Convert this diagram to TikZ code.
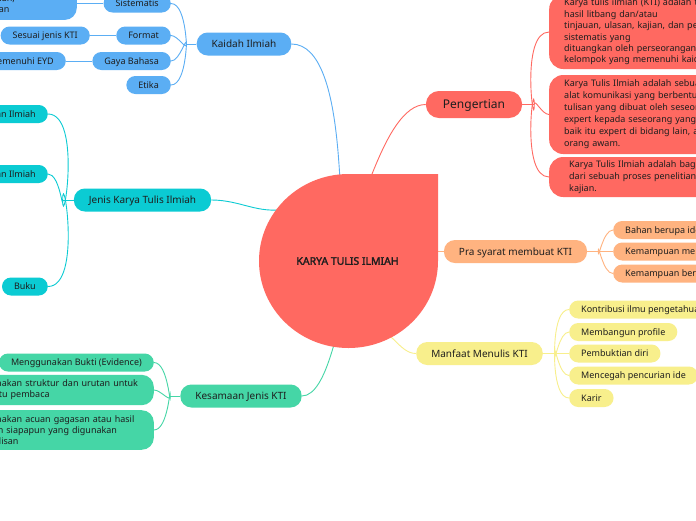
\documentclass[tikz,border=0pt]{standalone}
\usepackage{fontspec}
\setmainfont{Noto Sans}[AutoFakeBold=2.2]
\definecolor{cblue}{HTML}{5BAEF4}
\definecolor{cteal}{HTML}{0BCBD3}
\definecolor{cgreen}{HTML}{45D6A6}
\definecolor{cred}{HTML}{FF6961}
\definecolor{corange}{HTML}{FFB380}
\definecolor{cyellow}{HTML}{F8EF8C}
\definecolor{ctext}{HTML}{1E1E1E}
\pgfdeclarelayer{back}
\pgfdeclarelayer{bg}
\pgfsetlayers{back,bg,main}
\tikzset{
  lvlone/.style={rounded corners=11pt, inner xsep=15pt, inner ysep=0pt, minimum height=23pt,
    text height=7.2pt, text depth=0pt, font=\fontsize{10}{12}\selectfont, text=ctext},
  lvltwo/.style={rounded corners=9pt, inner xsep=12pt, inner ysep=0pt, minimum height=18pt,
    text height=6.5pt, text depth=0pt, font=\fontsize{9}{11}\selectfont, text=ctext},
  multi/.style={rounded corners=12pt, inner xsep=12pt, inner ysep=5pt, align=left,
    font=\fontsize{9}{11.3}\selectfont, text=ctext},
  defbox/.style={fill=cred, rounded corners=14pt, inner xsep=15pt, inner ysep=0pt, align=left,
    text width=220pt, text=ctext},
  link/.style={line width=0.9pt},
}
\begin{document}
\begin{tikzpicture}[x=1pt,y=-1pt]
\useasboundingbox (0,0) rectangle (696,520);
\clip (0,0) rectangle (696,520);
\begin{pgfonlayer}{back}
\fill[white] (0,0) rectangle (696,520);
\end{pgfonlayer}

% central teardrop
\fill[cred] (438,174) -- (438,261) arc[start angle=0,end angle=270,x radius=89.5,y radius=87] -- cycle;
\node[font=\bfseries\fontsize{10.5}{12}\selectfont, text=ctext] (kti) at (347.5,261) {KARYA TULIS ILMIAH};
\coordinate (inTop) at (345,185);
\coordinate (inTopR) at (356,192);
\coordinate (inLeft) at (286,209);
\coordinate (inBot) at (340,338);
\coordinate (inRight) at (430,251.5);
\coordinate (inBR) at (375,334);

% level one
\node[lvlone, fill=cblue] (kaidah) at (244,44) {Kaidah Ilmiah};
\node[lvlone, fill=cteal] (jenis) at (142.5,200) {Jenis Karya Tulis Ilmiah};
\node[lvlone, fill=cgreen] (kesamaan) at (241,396) {Kesamaan Jenis KTI};
\node[lvlone, fill=cred, inner xsep=17pt, minimum height=27pt, text height=8.6pt,
  rounded corners=13pt, font=\fontsize{12}{14}\selectfont] (pengertian) at (474,104.5) {Pengertian};
\node[lvlone, fill=corange] (prasyarat) at (515.5,251.5) {Pra syarat membuat KTI};
\node[lvlone, fill=cyellow] (manfaat) at (479.5,353.5) {Manfaat Menulis KTI};

% blue branch
\node[lvltwo, fill=cblue, anchor=east] (sistematis) at (171,3.5) {Sistematis};
\node[lvltwo, fill=cblue, anchor=east] (format) at (171,35.5) {Format};
\node[lvltwo, fill=cblue, anchor=east] (gaya) at (171,61) {Gaya Bahasa};
\node[lvltwo, fill=cblue, anchor=east] (etika) at (171,85) {Etika};
\node[multi, fill=cblue, anchor=east, text width=210pt, font=\fontsize{9}{11.4}\selectfont]
  (sisdesc) at (77,-1) {Tersusun secara runtut dan logis\\sehingga memudahkan pemahaman,\\dari pembukaan hingga kesimpulan};
\node[lvltwo, fill=cblue, anchor=east] (sesuai) at (90,35.5) {Sesuai jenis KTI};
\node[lvltwo, fill=cblue, anchor=east] (eyd) at (66,61) {Baku dan memenuhi EYD};

% teal branch
\node[lvltwo, fill=cteal, anchor=east] (laporan) at (48,114) {Laporan Ilmiah};
\node[lvltwo, fill=cteal, anchor=east] (karangan) at (48,174) {Karangan Ilmiah};
\node[lvltwo, fill=cteal, anchor=east] (buku) at (48,286.5) {Buku};

% green branch
\node[lvltwo, fill=cgreen, anchor=east] (bukti) at (154,362.5) {Menggunakan Bukti (Evidence)};
\node[multi, fill=cgreen, anchor=east, text width=181pt] (struktur) at (154,390)
  {Menggunakan struktur dan urutan untuk\\membantu pembaca};
\node[multi, fill=cgreen, anchor=east, text width=181pt] (acuan) at (154,430)
  {Menggunakan acuan gagasan atau hasil\\pemikiran siapapun yang digunakan\\dalam tulisan};

% red branch
\node[defbox, anchor=west, minimum height=74pt, font=\fontsize{9}{11.4}\selectfont] (def1) at (549,32)
  {Karya tulis ilmiah (KTI) adalah tulisan\\hasil litbang dan/atau\\tinjauan, ulasan, kajian, dan pemikiran\\sistematis yang\\dituangkan oleh perseorangan atau\\kelompok yang memenuhi kaidah ilmiah.};
\node[defbox, anchor=west, minimum height=79pt, font=\fontsize{9}{12}\selectfont] (def2) at (549,114.5)
  {Karya Tulis Ilmiah adalah sebuah\\alat komunikasi yang berbentuk\\tulisan yang dibuat oleh seseorang\\expert kepada seseorang yang lain,\\baik itu expert di bidang lain, atau\\orang awam.};
\node[defbox, anchor=west, minimum height=40pt, inner xsep=20pt, font=\fontsize{9}{12}\selectfont] (def3) at (549,177)
  {Karya Tulis Ilmiah adalah bagian\\dari sebuah proses penelitian atau\\kajian.};

% orange branch
\node[lvltwo, fill=corange, anchor=west] (bahan) at (613,230) {Bahan berupa ide/gagasan};
\node[lvltwo, fill=corange, anchor=west] (menulis) at (613,251.5) {Kemampuan menulis};
\node[lvltwo, fill=corange, anchor=west] (berpikir) at (613,273.5) {Kemampuan berpikir ilmiah};

% yellow branch
\node[lvltwo, fill=cyellow, anchor=west] (kontribusi) at (569,309.5) {Kontribusi ilmu pengetahuan};
\node[lvltwo, fill=cyellow, anchor=west] (profile) at (569,332) {Membangun profile};
\node[lvltwo, fill=cyellow, anchor=west] (bukti2) at (569,353.5) {Pembuktian diri};
\node[lvltwo, fill=cyellow, anchor=west] (cegah) at (569,375.5) {Mencegah pencurian ide};
\node[lvltwo, fill=cyellow, anchor=west] (karir) at (569,398) {Karir};

\begin{pgfonlayer}{bg}
% main links
\draw[link, cblue] (kaidah.east) to[out=0,in=-100] (inTop);
\draw[link, cred] (pengertian.west) to[out=180,in=-85] (inTopR);
\draw[link, cteal] (jenis.east) to[out=0,in=190] (inLeft);
\draw[link, cgreen] (kesamaan.east) to[out=0,in=95] (inBot);
\draw[link, corange] (prasyarat.west) -- (inRight);
\draw[link, cyellow] (manfaat.west) to[out=180,in=30] (inBR);
% blue
\draw[link, cblue] (kaidah.west) -- ++(-10,0) coordinate (jb);
\draw[link, cblue] (jb) to[out=-90,in=0] (sistematis.east);
\draw[link, cblue] (jb) to[out=-90,in=0] (format.east);
\draw[link, cblue] (jb) to[out=90,in=0] (gaya.east);
\draw[link, cblue] (jb) to[out=90,in=0] (etika.east);
\draw[link, cblue] (sistematis.west) -- (sisdesc.east |- sistematis.west);
\draw[link, cblue] (format.west) -- (sesuai.east);
\draw[link, cblue] (gaya.west) -- (eyd.east);
% teal
\draw[link, cteal] (jenis.west) -- ++(-11,0) coordinate (jt);
\draw[link, cteal] (jt) to[out=-90,in=0] (laporan.east);
\draw[link, cteal] (jt) to[out=-90,in=0] (karangan.east);
\draw[link, cteal] (jt) to[out=90,in=0] (buku.east);
% green
\draw[link, cgreen] (kesamaan.west) -- ++(-10,0) coordinate (jg);
\draw[link, cgreen] (jg) to[out=-90,in=0] (bukti.east);
\draw[link, cgreen] (jg) to[out=-90,in=0] (struktur.east);
\draw[link, cgreen] (jg) to[out=90,in=0] (acuan.east);
% red
\draw[link, cred] (pengertian.east) -- ++(12,0) coordinate (jr);
\draw[link, cred] (jr) to[out=-90,in=180] (def1.west);
\draw[link, cred] (jr) to[out=90,in=180] (def2.west);
\draw[link, cred] (jr) to[out=90,in=180] (def3.west);
% orange
\draw[link, corange] (prasyarat.east) -- ++(11,0) coordinate (jo);
\draw[link, corange] (jo) to[out=-90,in=180] (bahan.west);
\draw[link, corange] (jo) -- (menulis.west);
\draw[link, corange] (jo) to[out=90,in=180] (berpikir.west);
% yellow
\draw[link, cyellow] (manfaat.east) -- ++(12,0) coordinate (jy);
\draw[link, cyellow] (jy) to[out=-90,in=180] (kontribusi.west);
\draw[link, cyellow] (jy) to[out=-90,in=180] (profile.west);
\draw[link, cyellow] (jy) -- (bukti2.west);
\draw[link, cyellow] (jy) to[out=90,in=180] (cegah.west);
\draw[link, cyellow] (jy) to[out=90,in=180] (karir.west);
\end{pgfonlayer}
\end{tikzpicture}
\end{document}
